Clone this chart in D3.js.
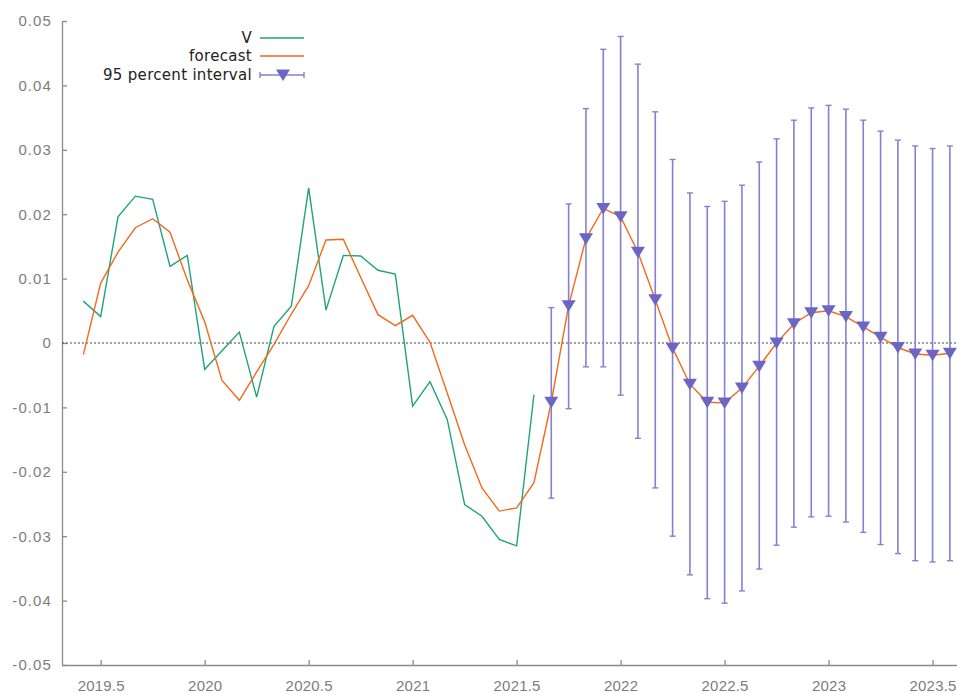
<!DOCTYPE html>
<html>
<head>
<meta charset="utf-8">
<script src="https://cdn.jsdelivr.net/npm/d3@7"></script>
<style>
  body { margin: 0; background: #fff; }
  svg { display: block; font-family: 'DejaVu Sans', Verdana, sans-serif; }
  .axis path, .axis line { stroke: #8a8a8a; stroke-width: 1.3; }
  .axis text { fill: #7d7d7d; font-size: 15px; }
</style>
</head>
<body>
<script>
// monthly periods, June 2019 .. August 2023
const periods = [
  '2019:06', '2019:07', '2019:08', '2019:09', '2019:10', '2019:11', '2019:12',
  '2020:01', '2020:02', '2020:03', '2020:04', '2020:05', '2020:06',
  '2020:07', '2020:08', '2020:09', '2020:10', '2020:11', '2020:12',
  '2021:01', '2021:02', '2021:03', '2021:04', '2021:05', '2021:06',
  '2021:07', '2021:08', '2021:09', '2021:10', '2021:11', '2021:12',
  '2022:01', '2022:02', '2022:03', '2022:04', '2022:05', '2022:06',
  '2022:07', '2022:08', '2022:09', '2022:10', '2022:11', '2022:12',
  '2023:01', '2023:02', '2023:03', '2023:04', '2023:05', '2023:06',
  '2023:07', '2023:08',
];

// observed series V (2019:06 .. 2021:08)
const vValues = [
  0.0065, 0.0041, 0.0196, 0.0228, 0.0223, 0.0119, 0.0136,
  -0.0041, -0.0012, 0.0017, -0.0084, 0.0026, 0.0057,
  0.0241, 0.0051, 0.0136, 0.0135, 0.0113, 0.0107,
  -0.0098, -0.0060, -0.0119, -0.0251, -0.0269, -0.0305,
  -0.0315, -0.0080,
];

// forecast (2019:06 .. 2023:08)
const forecast = [
  -0.0018, 0.0093, 0.0141, 0.0179, 0.0193, 0.0172, 0.0098,
  0.0033, -0.0058, -0.0089, -0.0045, -0.0002, 0.0045,
  0.0089, 0.0160, 0.0161, 0.0102, 0.0044, 0.0027,
  0.0043, 0.0001, -0.0078, -0.0158, -0.0225, -0.0261,
  -0.0256, -0.0217, -0.0092, 0.0058, 0.0162, 0.0209,
  0.0196, 0.0141, 0.0067, -0.0008, -0.0064, -0.0092,
  -0.0093, -0.0070, -0.0036, 0.0000, 0.0030, 0.0047,
  0.0050, 0.0041, 0.0025, 0.0009, -0.0007, -0.0017,
  -0.0019, -0.0016,
];

// 95 percent interval (2021:09 .. 2023:08)
const upper = [
  0.0055, 0.0216, 0.0364, 0.0456, 0.0476, 0.0433, 0.0359, 0.0285,
  0.0233, 0.0212, 0.0220, 0.0245, 0.0281, 0.0317, 0.0346, 0.0365,
  0.0369, 0.0363, 0.0346, 0.0329, 0.0315, 0.0306, 0.0302, 0.0306,
];
const lower = [
  -0.0241, -0.0102, -0.0037, -0.0037, -0.0081, -0.0148, -0.0225, -0.0300,
  -0.0360, -0.0397, -0.0404, -0.0385, -0.0351, -0.0314, -0.0286, -0.0270,
  -0.0269, -0.0278, -0.0294, -0.0313, -0.0327, -0.0338, -0.0340, -0.0338,
];

const xTicks = [2019.5, 2020, 2020.5, 2021, 2021.5, 2022, 2022.5, 2023, 2023.5];
const yTicks = [-0.05, -0.04, -0.03, -0.02, -0.01, 0, 0.01, 0.02, 0.03, 0.04, 0.05];

const toYear = (p) => {
  const [yy, mm] = p.split(':').map(Number);
  return yy + (mm - 1) / 12;
};

const width = 957;
const height = 693;

const x = d3.scaleLinear()
  .domain([2019.314, 2023.68])
  .range([62, 970]);

const y = d3.scaleLinear()
  .domain([-0.05, 0.05])
  .range([665, 21]);

const svg = d3.select('body').append('svg')
  .attr('width', width)
  .attr('height', height);

svg.append('g')
  .attr('class', 'axis x')
  .attr('transform', `translate(0, ${y(-0.05)})`)
  .call(d3.axisBottom(x).tickValues(xTicks).tickSize(-5).tickSizeOuter(0)
    .tickPadding(15).tickFormat(d => String(d)));

svg.append('g')
  .attr('class', 'axis y')
  .attr('transform', `translate(${x.range()[0]}, 0)`)
  .call(d3.axisLeft(y).tickValues(yTicks).tickSize(-5).tickSizeOuter(0)
    .tickPadding(10).tickFormat(d => (d === 0 ? '0' : d.toFixed(2))));

svg.selectAll('.axis.y .tick text').attr('letter-spacing', '1.1px');
svg.selectAll('.axis.x .tick text').attr('letter-spacing', '0.2px');

// zero line
svg.append('line')
  .attr('x1', x.range()[0])
  .attr('x2', width)
  .attr('y1', y(0))
  .attr('y2', y(0))
  .attr('stroke', '#444')
  .attr('stroke-width', 1)
  .attr('stroke-dasharray', '2,2');

const vData = vValues.map((v, i) => ({ t: toYear(periods[i]), v }));
const fData = forecast.map((v, i) => ({ t: toYear(periods[i]), v }));
const start = periods.length - upper.length;
const iData = upper.map((u, i) => ({
  t: toYear(periods[start + i]),
  v: forecast[start + i],
  lo: lower[i],
  hi: u,
}));

const line = d3.line()
  .x(d => x(d.t))
  .y(d => y(d.v));

svg.append('path')
  .datum(vData)
  .attr('fill', 'none')
  .attr('stroke', '#1fa47a')
  .attr('stroke-width', 1.4)
  .attr('d', line);

svg.append('path')
  .datum(fData)
  .attr('fill', 'none')
  .attr('stroke', '#f26a1b')
  .attr('stroke-width', 1.4)
  .attr('d', line);

const barColor = '#8581d0';
const markColor = '#6b66c4';
const tri = 'M-7,-5.5L7,-5.5L0,6Z';

const bars = svg.append('g');
bars.selectAll('line.bar')
  .data(iData)
  .enter().append('line')
  .attr('x1', d => x(d.t))
  .attr('x2', d => x(d.t))
  .attr('y1', d => y(d.lo))
  .attr('y2', d => y(d.hi))
  .attr('stroke', barColor)
  .attr('stroke-width', 1.6);

['lo', 'hi'].forEach((k) => {
  bars.selectAll(`line.cap-${k}`)
    .data(iData)
    .enter().append('line')
    .attr('x1', d => x(d.t) - 3)
    .attr('x2', d => x(d.t) + 3)
    .attr('y1', d => y(d[k]))
    .attr('y2', d => y(d[k]))
    .attr('stroke', barColor)
    .attr('stroke-width', 1.4);
});

bars.selectAll('path')
  .data(iData)
  .enter().append('path')
  .attr('d', tri)
  .attr('transform', d => `translate(${x(d.t)}, ${y(d.v)})`)
  .attr('fill', markColor);

// legend
const legend = svg.append('g')
  .attr('font-size', '15px')
  .attr('fill', '#222');

const keys = [
  { label: 'V', y: 38, color: '#1fa47a' },
  { label: 'forecast', y: 56, color: '#f26a1b' },
  { label: '95 percent interval', y: 75, color: barColor },
];

keys.forEach((k) => {
  legend.append('text')
    .attr('x', 252)
    .attr('y', k.y + 5)
    .attr('text-anchor', 'end')
    .attr('letter-spacing', '0.3px')
    .text(k.label);

  legend.append('line')
    .attr('x1', 260)
    .attr('x2', 304)
    .attr('y1', k.y)
    .attr('y2', k.y)
    .attr('stroke', k.color)
    .attr('stroke-width', 1.5);
});

[260, 304].forEach((cx) => {
  legend.append('line')
    .attr('x1', cx)
    .attr('x2', cx)
    .attr('y1', 72)
    .attr('y2', 78)
    .attr('stroke', barColor)
    .attr('stroke-width', 1.4);
});

legend.append('path')
  .attr('d', tri)
  .attr('transform', 'translate(283, 75)')
  .attr('fill', markColor);
</script>
</body>
</html>
